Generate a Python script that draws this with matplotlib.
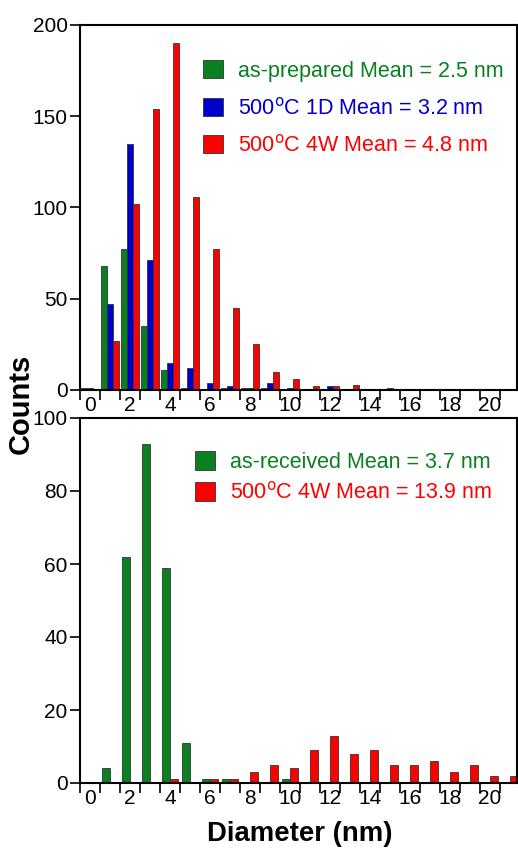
import numpy as np
import matplotlib
matplotlib.use('Agg')
import matplotlib.pyplot as plt

plt.rcParams['font.family'] = ['Liberation Sans', 'DejaVu Sans']

# bin centres (nm)
diam = np.arange(0, 22)

# top panel counts
prepared = [1, 68, 77, 35, 11, 1, 0, 1, 1, 1, 0, 0, 0, 0, 0, 0, 0, 0, 0, 0, 0, 0]
c500_1d = [1, 47, 135, 71, 15, 12, 4, 2, 1, 4, 1, 0, 2, 0, 0, 1, 0, 0, 0, 0, 0, 0]
c500_4w = [0, 27, 102, 154, 190, 106, 77, 45, 25, 10, 6, 2, 2, 3, 0, 0, 0, 0, 0, 0, 0, 0]

# bottom panel counts
received = [0, 4, 62, 93, 59, 11, 1, 1, 0, 0, 1, 0, 0, 0, 0, 0, 0, 0, 0, 0, 0, 0]
rec_4w = [0, 0, 0, 0, 1, 0, 1, 1, 3, 5, 4, 9, 13, 8, 9, 5, 5, 6, 3, 5, 2, 2]

top_labels = ['as-prepared Mean = 2.5 nm',
              '500$^\\mathrm{o}$C 1D Mean = 3.2 nm',
              '500$^\\mathrm{o}$C 4W Mean = 4.8 nm']
bot_labels = ['as-received Mean = 3.7 nm',
              '500$^\\mathrm{o}$C 4W Mean = 13.9 nm']

green = '#0a8020'
blue = '#0000cc'
red = '#ff0000'
edge = '#333333'

fig = plt.figure(figsize=(5.18, 8.49), dpi=100)
ax1 = fig.add_axes([80/518, 1-390/849, 437/518, 365/849])
ax2 = fig.add_axes([80/518, 1-783/849, 437/518, 365/849])

w = 0.285
ax1.bar(diam - w, prepared, w, color=green, edgecolor=edge, lw=0.6, label=top_labels[0])
ax1.bar(diam, c500_1d, w, color=blue, edgecolor=edge, lw=0.6, label=top_labels[1])
ax1.bar(diam + w, c500_4w, w, color=red, edgecolor=edge, lw=0.6, label=top_labels[2])

w2 = 0.42
ax2.bar(diam - w2/2, received, w2, color=green, edgecolor=edge, lw=0.6, label=bot_labels[0])
ax2.bar(diam + w2/2, rec_4w, w2, color=red, edgecolor=edge, lw=0.6, label=bot_labels[1])

for ax, ymax, step in [(ax1, 200, 50), (ax2, 100, 20)]:
    ax.set_xlim(-0.5, 21.35)
    ax.set_ylim(0, ymax)
    ax.set_yticks(np.arange(0, ymax + 1, step))
    ax.set_xticks(np.arange(0, 21, 2))
    ax.set_xticks(np.arange(-0.5, 21.5, 1), minor=True)
    ax.tick_params(axis='x', which='major', length=0, pad=4, labelsize=15)
    ax.tick_params(axis='x', which='minor', length=7, width=1.2, direction='out')
    ax.tick_params(axis='y', length=7, width=1.2, pad=2, labelsize=15)
    for s in ax.spines.values():
        s.set_linewidth(1.5)

leg1 = ax1.legend(loc='upper left', bbox_to_anchor=(0.2815, 0.904), frameon=False,
                  fontsize=15.5, handlelength=0.93, handleheight=0.93,
                  handletextpad=0.7, labelspacing=0.72, borderpad=0, borderaxespad=0)
for t, c in zip(leg1.get_texts(), [green, blue, red]):
    t.set_color(c)

leg2 = ax2.legend(loc='upper left', bbox_to_anchor=(0.263, 0.909), frameon=False,
                  fontsize=15.5, handlelength=0.93, handleheight=0.93,
                  handletextpad=0.7, labelspacing=0.42, borderpad=0, borderaxespad=0)
for t, c in zip(leg2.get_texts(), [green, red]):
    t.set_color(c)

fig.text(21/518, 1-404/849, 'Counts', rotation=90, ha='center', va='center',
         fontsize=21, fontweight='bold')
fig.text(300/518, 1-834/849, 'Diameter (nm)', ha='center', va='center',
         fontsize=19.8, fontweight='bold')

fig.savefig('out.png', dpi=100)
